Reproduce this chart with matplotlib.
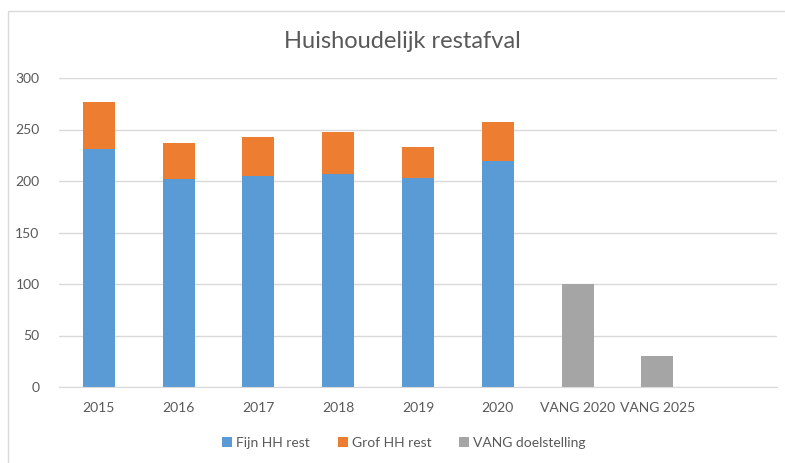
import matplotlib.pyplot as plt
from matplotlib import patches
import numpy as np

plt.rcParams['font.family'] = ['Lato', 'DejaVu Sans']
plt.rcParams['font.size'] = 10

# Data
categories = ['2015', '2016', '2017', '2018', '2019', '2020', 'VANG 2020', 'VANG 2025', '']
fijn = [231, 202, 205, 207, 203, 219, np.nan, np.nan, np.nan]
grof = [46, 35, 38, 41, 30, 38, np.nan, np.nan, np.nan]
vang = [np.nan, np.nan, np.nan, np.nan, np.nan, np.nan, 100, 30, np.nan]
yticks = [0, 50, 100, 150, 200, 250, 300]

text_col = '#595959'
grid_col = '#D9D9D9'

fig = plt.figure(figsize=(7.85, 4.63), dpi=100)
ax = fig.add_axes([59 / 785, 76 / 463, 718 / 785, 309 / 463])

x = np.arange(len(categories))
w = 0.4
ax.bar(x, fijn, w, color='#5B9BD5', label='Fijn HH rest', zorder=3)
ax.bar(x, grof, w, bottom=fijn, color='#ED7D31', label='Grof HH rest', zorder=3)
ax.bar(x, vang, w, color='#A5A5A5', label='VANG doelstelling', zorder=3)

ax.set_xlim(-0.5, len(categories) - 0.5)
ax.set_ylim(0, 300)
ax.set_yticks(yticks)
ax.set_xticks(x)
ax.set_xticklabels(categories)
ax.yaxis.grid(True, color=grid_col, linewidth=1, zorder=0)
ax.tick_params(length=0, colors=text_col, labelsize=10)
ax.tick_params(axis='x', pad=11)
ax.tick_params(axis='y', pad=14)
for s in ['top', 'right', 'left']:
    ax.spines[s].set_visible(False)
ax.spines['bottom'].set_color(grid_col)
ax.spines['bottom'].set_zorder(4)

fig.text(402 / 785, 1 - 42 / 463, 'Huishoudelijk restafval', ha='center', va='center',
         fontsize=17, color=text_col)

ax.legend(loc='center', bbox_to_anchor=(404 / 785, 1 - 443 / 463), bbox_transform=fig.transFigure,
          ncol=3, frameon=False, handlelength=0.7, handleheight=0.7, handletextpad=0.3,
          columnspacing=2.0, labelcolor=text_col, fontsize=10)

# chart border
fig.patches.append(patches.Rectangle((8 / 785, -0.1), 1.1, 1 - 11 / 463 + 0.1, transform=fig.transFigure,
                                     fill=False, edgecolor='#D9D9D9', linewidth=1))

plt.savefig('out.png', dpi=100)
